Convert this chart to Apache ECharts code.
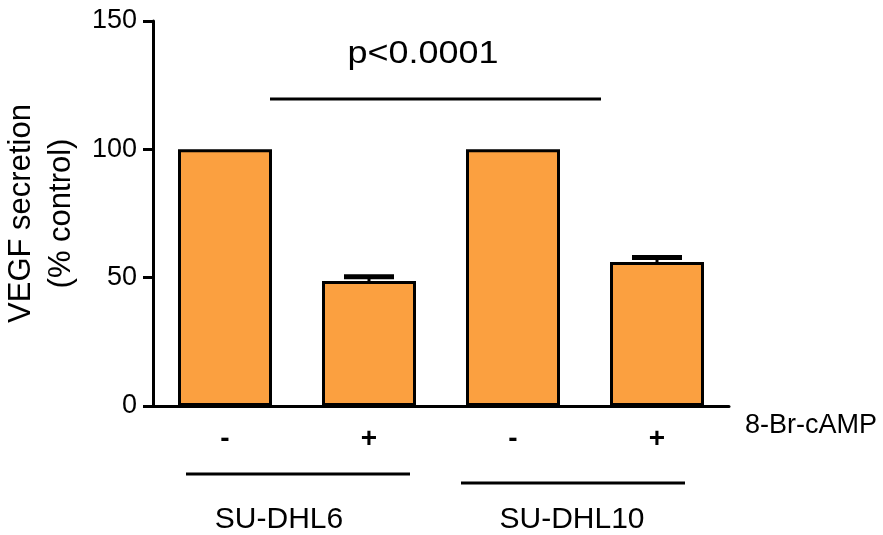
<!DOCTYPE html>
<html>
<head>
<meta charset="utf-8">
<script src="https://cdn.jsdelivr.net/npm/echarts@6/dist/echarts.min.js"></script>
<style>
  html, body { margin: 0; padding: 0; background: #fff; }
  #chart { width: 883px; height: 535px; }
</style>
</head>
<body>
<div id="chart"></div>
<script>
// 8-Br-cAMP treatment (- / +) for each cell line
const categories = ['-', '+', '-', '+'];
const cellLines = ['SU-DHL6', 'SU-DHL10'];
// VEGF secretion, % of untreated control (mean and SEM)
const secretion = [100, 48.7, 100, 56.1];
const sem = [0, 1.7, 0, 1.8];
const yTicks = [0, 50, 100, 150];
const pLabel = 'p<0.0001';
const treatmentLabel = '8-Br-cAMP';

const FONT = 'Liberation Sans, Arial, sans-serif';
const chart = echarts.init(document.getElementById('chart'));

const errData = secretion.map((v, i) => [i, v, sem[i]]);

chart.setOption({
  backgroundColor: '#fff',
  animation: false,
  grid: { left: 153, right: 154, top: 21, bottom: 129, containLabel: false, outerBoundsMode: 'none' },
  xAxis: {
    type: 'category',
    data: categories,
    axisLine: { lineStyle: { color: '#000', width: 3 } },
    axisTick: { alignWithLabel: true, length: 10, lineStyle: { color: '#000', width: 3 } },
    axisLabel: { color: '#000', fontSize: 28, fontWeight: 'bold', fontFamily: FONT, margin: 19 }
  },
  yAxis: {
    type: 'value',
    min: yTicks[0],
    max: yTicks[yTicks.length - 1],
    interval: 50,
    name: 'VEGF secretion\n(% control)',
    nameLocation: 'middle',
    nameRotate: 90,
    nameGap: 68,
    nameTextStyle: { color: '#000', fontSize: 31, fontFamily: FONT, lineHeight: 40 },
    axisLine: { show: true, lineStyle: { color: '#000', width: 3 } },
    axisTick: { show: true, length: 10, lineStyle: { color: '#000', width: 3 } },
    axisLabel: { color: '#000', fontSize: 27, fontFamily: FONT, margin: 16 },
    splitLine: { show: false }
  },
  series: [
    {
      type: 'bar',
      data: secretion,
      barWidth: 94,
      itemStyle: { color: '#FBA040', borderColor: '#000', borderWidth: 3 },
      z: 2
    },
    {
      type: 'custom',
      data: errData,
      z: 3,
      renderItem: function (params, api) {
        const i = api.value(0), v = api.value(1), e = api.value(2);
        if (!e) return null;
        const base = api.coord([i, v]);
        const top = api.coord([i, v + e]);
        const half = 25;
        return {
          type: 'group',
          children: [
            { type: 'line', shape: { x1: base[0], y1: base[1], x2: top[0], y2: top[1] }, style: { stroke: '#000', lineWidth: 3 } },
            { type: 'line', shape: { x1: top[0] - half, y1: top[1], x2: top[0] + half, y2: top[1] }, style: { stroke: '#000', lineWidth: 5 } }
          ]
        };
      }
    }
  ],
  graphic: [
    { type: 'text', x: 745, y: 426, style: { text: treatmentLabel, fontSize: 27, fontFamily: FONT, fill: '#000', align: 'left', verticalAlign: 'middle' } },
    { type: 'line', shape: { x1: 186, y1: 474, x2: 410, y2: 474 }, style: { stroke: '#000', lineWidth: 3 } },
    { type: 'line', shape: { x1: 461, y1: 483, x2: 685, y2: 483 }, style: { stroke: '#000', lineWidth: 3 } },
    { type: 'text', x: 279, y: 520, style: { text: cellLines[0], fontSize: 30, fontFamily: FONT, fill: '#000', align: 'center', verticalAlign: 'middle' } },
    { type: 'text', x: 572, y: 520, style: { text: cellLines[1], fontSize: 30, fontFamily: FONT, fill: '#000', align: 'center', verticalAlign: 'middle' } },
    { type: 'text', x: 423, y: 54, scaleX: 1.16, style: { text: pLabel, fontSize: 31, fontFamily: FONT, fill: '#000', align: 'center', verticalAlign: 'middle' } },
    { type: 'line', shape: { x1: 270, y1: 99, x2: 601, y2: 99 }, style: { stroke: '#000', lineWidth: 3 } }
  ]
});
</script>
</body>
</html>
